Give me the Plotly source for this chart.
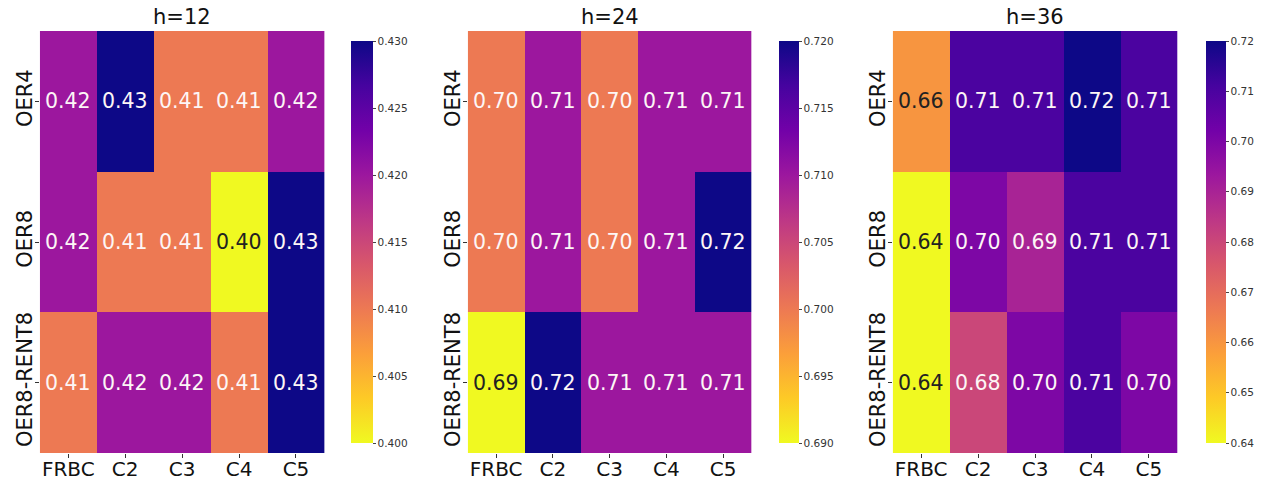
import plotly.graph_objects as go
from plotly.colors import sample_colorscale, unlabel_rgb
import plotly.colors as pc

# Row and column labels
rows = ["OER4", "OER8", "OER8-RENT8"]
cols = ["FRBC", "C2", "C3", "C4", "C5"]

# Scores per horizon (rows x cols)
h12 = [[0.42, 0.43, 0.41, 0.41, 0.42],
       [0.42, 0.41, 0.41, 0.40, 0.43],
       [0.41, 0.42, 0.42, 0.41, 0.43]]
h24 = [[0.70, 0.71, 0.70, 0.71, 0.71],
       [0.70, 0.71, 0.70, 0.71, 0.72],
       [0.69, 0.72, 0.71, 0.71, 0.71]]
h36 = [[0.66, 0.71, 0.71, 0.72, 0.71],
       [0.64, 0.70, 0.69, 0.71, 0.71],
       [0.64, 0.68, 0.70, 0.71, 0.70]]

titles = ["h=12", "h=24", "h=36"]
cbar_ticks = [
    ([0.400, 0.405, 0.410, 0.415, 0.420, 0.425, 0.430], ".3f"),
    ([0.690, 0.695, 0.700, 0.705, 0.710, 0.715, 0.720], ".3f"),
    ([0.64, 0.65, 0.66, 0.67, 0.68, 0.69, 0.70, 0.71, 0.72], ".2f"),
]

W, H = 1265, 483
FONT = "DejaVu Sans"
scale = pc.sequential.Plasma_r

# pixel layout of each panel: heatmap x-range, colorbar x-start, colorbar width
panels = [(40, 326, 343, 22), (470, 755, 773, 20), (897, 1183, 1202, 20)]
y_top, y_bot = 31, 453
ydom = [1 - y_bot / H, 1 - y_top / H]


def lum(rgb):
    out = []
    for c in rgb:
        c = c / 255
        out.append(c / 12.92 if c <= 0.03928 else ((c + 0.055) / 1.055) ** 2.4)
    return 0.2126 * out[0] + 0.7152 * out[1] + 0.0722 * out[2]


fig = go.Figure()
annotations = []
for i, (data, title, (ticks, fmt), (x0, x1, cbx, cbw)) in enumerate(
        zip([h12, h24, h36], titles, cbar_ticks, panels)):
    n = "" if i == 0 else str(i + 1)
    zmin, zmax = ticks[0], ticks[-1]
    fig.add_trace(go.Heatmap(
        z=data, x=cols, y=rows, zmin=zmin, zmax=zmax,
        colorscale=scale, xaxis="x" + n, yaxis="y" + n,
        hoverinfo="skip",
        colorbar=dict(
            x=cbx / W, xanchor="left", xref="paper",
            y=ydom[0], yanchor="bottom", len=ydom[1] - ydom[0], lenmode="fraction",
            thickness=cbw, thicknessmode="pixels", outlinewidth=0,
            tickvals=ticks, ticktext=[format(t, fmt) for t in ticks],
            ticks="outside", ticklen=3, tickcolor="#444",
            tickfont=dict(family=FONT, size=10.5, color="#333"),
        ),
    ))
    fig.update_layout(**{
        "xaxis" + n: dict(domain=[x0 / W, x1 / W], anchor="y" + n, automargin=False,
                          ticks="outside", ticklen=4, tickcolor="#333",
                          ticklabelstandoff=-6,
                          tickfont=dict(family=FONT, size=20, color="#111"),
                          showgrid=False, zeroline=False, showline=False),
        "yaxis" + n: dict(domain=ydom, anchor="x" + n, autorange="reversed",
                          automargin=False, ticklabelstandoff=-6,
                          ticks="outside", ticklen=4, tickcolor="#333", tickangle=-90,
                          tickfont=dict(family=FONT, size=21, color="#111"),
                          showgrid=False, zeroline=False, showline=False),
    })
    # cell value labels
    for r, row in enumerate(rows):
        for c, col in enumerate(cols):
            v = data[r][c]
            frac = (v - zmin) / (zmax - zmin)
            rgb = unlabel_rgb(sample_colorscale(scale, [frac], colortype="rgb")[0])
            color = "#222" if lum(rgb) > 0.408 else "#fdf6f6"
            annotations.append(dict(
                x=col, y=row, xref="x" + n, yref="y" + n, text=f"{v:.2f}",
                showarrow=False, font=dict(family=FONT, size=20.5, color=color)))
    annotations.append(dict(
        x=(x0 + x1) / 2 / W, y=1 - 17 / H, xref="paper", yref="paper",
        text=title, showarrow=False, xanchor="center", yanchor="middle",
        font=dict(family=FONT, size=21, color="#111")))

fig.update_layout(
    width=W, height=H, margin=dict(l=0, r=0, t=0, b=0),
    paper_bgcolor="white", plot_bgcolor="white",
    annotations=annotations, showlegend=False,
)

fig.write_html("out.html")
